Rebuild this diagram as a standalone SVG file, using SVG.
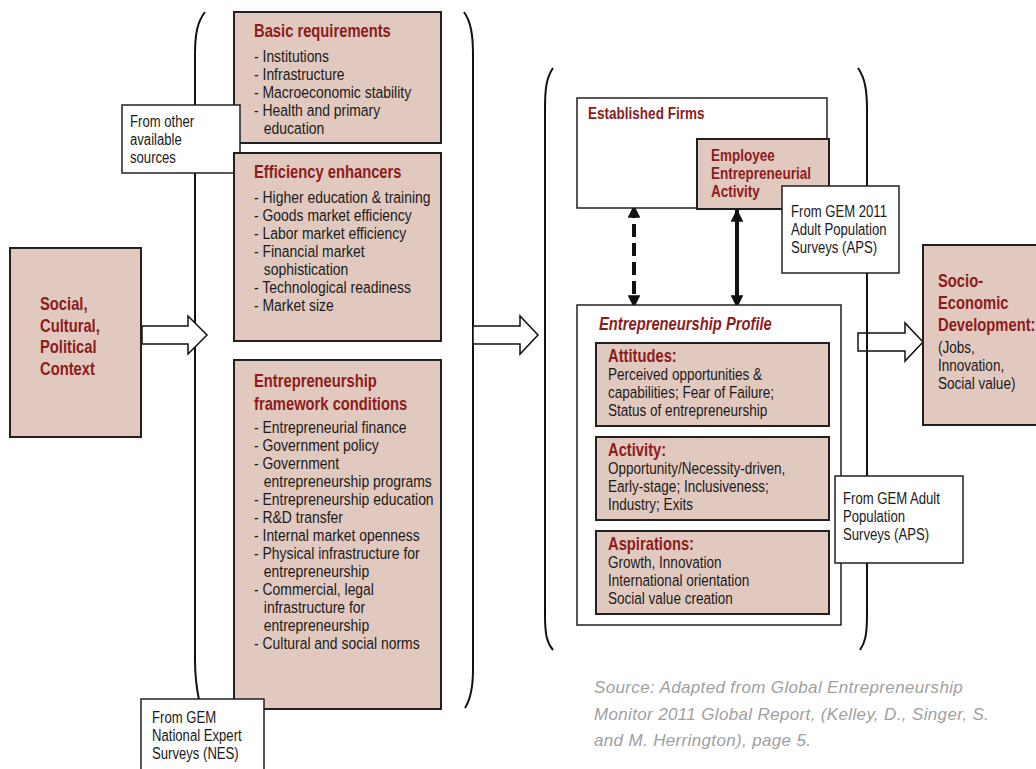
<svg xmlns="http://www.w3.org/2000/svg" width="1036" height="769" viewBox="0 0 1036 769">
<style>
text{font-family:"Liberation Sans",Arial,sans-serif;fill:#1a1a1a}
.pink{fill:#e2c9bf;stroke:#231f20;stroke-width:2}
.wbox{fill:#fff;stroke:#231f20;stroke-width:1.5}
.br{fill:none;stroke:#111;stroke-width:2}
.blk{fill:#fff;stroke:#111;stroke-width:1.5}
.t{font-weight:bold;fill:#8c1c1c}
.t16{font-size:16.5px}.t18{font-size:18px}
.i17{font-size:17px}.i16{font-size:16.5px}
.n14{font-size:16px}
.src{font-style:italic;font-size:17px;letter-spacing:0.35px;fill:#a0a0a0}
</style>
<defs>
<marker id="ah" viewBox="0 0 10 10" refX="10" refY="5" markerWidth="3.2" markerHeight="3.2" orient="auto-start-reverse" markerUnits="strokeWidth">
<path d="M0,0 L10,5 L0,10 z" fill="#111"/>
</marker>
</defs>
<rect width="1036" height="769" fill="#fff"/>
<g id="connectors">
<path class="br" d="M205,12 C197,22 195,35 195,55 L195,660 C195,680 197,690 199,700"/>
<path class="br" d="M464,12 C471,22 473,35 473,55 L473,670 C473,690 470,700 465,708"/>
<polygon class="blk" points="142,326 188,326 188,316 207,335 188,354 188,344 142,344"/>
<polygon class="blk" points="473,326 520,326 520,316 538,335 520,354 520,344 473,344"/>
<polygon class="blk" points="858,333 905,333 905,323 923,342 905,361 905,351 858,351"/>
<path class="br" d="M553,68 C546,78 545,90 545,110 L545,615 C545,635 547,643 553,650"/>
<path class="br" d="M858,68 C865,78 867,90 867,110 L867,615 C867,635 865,643 860,650"/>
<line x1="634" y1="205" x2="634" y2="308" stroke="#111" stroke-width="4" stroke-dasharray="13,6" marker-start="url(#ah)" marker-end="url(#ah)"/>
<line x1="737" y1="209" x2="737" y2="308" stroke="#111" stroke-width="4" marker-start="url(#ah)" marker-end="url(#ah)"/>
</g>
<g id="social">
<rect class="pink" x="10" y="248" width="131" height="189"/>
<g transform="translate(40,0) scale(0.82,1)">
<text class="t t18" x="0" y="310">Social,</text>
<text class="t t18" x="0" y="332">Cultural,</text>
<text class="t t18" x="0" y="353">Political</text>
<text class="t t18" x="0" y="375">Context</text>
</g>
</g>
<g id="basic">
<rect class="pink" x="234" y="12" width="207" height="131"/>
<g transform="translate(254,0) scale(0.82,1)">
<text class="t t18" x="0" y="37">Basic requirements</text>
<text class="i17" x="0" y="62">- Institutions</text>
<text class="i17" x="0" y="80">- Infrastructure</text>
<text class="i17" x="0" y="98">- Macroeconomic stability</text>
<text class="i17" x="0" y="116">- Health and primary</text>
<text class="i17" x="12" y="134">education</text>
</g>
</g>
<g id="other-sources">
<rect class="wbox" x="122" y="105" width="118" height="68"/>
<g transform="translate(130,0) scale(0.82,1)">
<text class="n14" x="0" y="127">From other</text>
<text class="n14" x="0" y="145">available</text>
<text class="n14" x="0" y="163">sources</text>
</g>
</g>
<g id="efficiency">
<rect class="pink" x="234" y="153" width="207" height="188"/>
<g transform="translate(254,0) scale(0.82,1)">
<text class="t t18" x="0" y="178">Efficiency enhancers</text>
<text class="i17" x="0" y="203">- Higher education &amp; training</text>
<text class="i17" x="0" y="221">- Goods market efficiency</text>
<text class="i17" x="0" y="239">- Labor market efficiency</text>
<text class="i17" x="0" y="257">- Financial market</text>
<text class="i17" x="12" y="275">sophistication</text>
<text class="i17" x="0" y="293">- Technological readiness</text>
<text class="i17" x="0" y="311">- Market size</text>
</g>
</g>
<g id="framework">
<rect class="pink" x="234" y="360" width="207" height="349"/>
<g transform="translate(254,0) scale(0.82,1)">
<text class="t t18" x="0" y="387">Entrepreneurship</text>
<text class="t t18" x="0" y="410">framework conditions</text>
<text class="i17" x="0" y="433">- Entrepreneurial finance</text>
<text class="i17" x="0" y="451">- Government policy</text>
<text class="i17" x="0" y="469">- Government</text>
<text class="i17" x="12" y="487">entrepreneurship programs</text>
<text class="i17" x="0" y="505">- Entrepreneurship education</text>
<text class="i17" x="0" y="523">- R&amp;D transfer</text>
<text class="i17" x="0" y="541">- Internal market openness</text>
<text class="i17" x="0" y="559">- Physical infrastructure for</text>
<text class="i17" x="12" y="577">entrepreneurship</text>
<text class="i17" x="0" y="595">- Commercial, legal</text>
<text class="i17" x="12" y="613">infrastructure for</text>
<text class="i17" x="12" y="631">entrepreneurship</text>
<text class="i17" x="0" y="649">- Cultural and social norms</text>
</g>
</g>
<g id="nes">
<rect class="wbox" x="141" y="699" width="123" height="80"/>
<g transform="translate(152,0) scale(0.82,1)">
<text class="n14" x="0" y="723">From GEM</text>
<text class="n14" x="0" y="741">National Expert</text>
<text class="n14" x="0" y="759">Surveys (NES)</text>
</g>
</g>
<g id="established">
<rect class="wbox" x="577" y="98" width="250" height="110"/>
<g transform="translate(588,0) scale(0.82,1)">
<text class="t t16" x="0" y="119">Established Firms</text>
</g>
</g>
<g id="employee">
<rect class="pink" x="697" y="139" width="132" height="70"/>
<g transform="translate(711,0) scale(0.82,1)">
<text class="t t16" x="0" y="161">Employee</text>
<text class="t t16" x="0" y="179">Entrepreneurial</text>
<text class="t t16" x="0" y="197">Activity</text>
</g>
</g>
<g id="aps2011">
<rect class="wbox" x="782" y="186" width="117" height="87"/>
<g transform="translate(791,0) scale(0.82,1)">
<text class="n14" x="0" y="217">From GEM 2011</text>
<text class="n14" x="0" y="235">Adult Population</text>
<text class="n14" x="0" y="253">Surveys (APS)</text>
</g>
</g>
<g id="profile">
<rect class="wbox" x="577" y="305" width="264" height="320"/>
<g transform="translate(599,0) scale(0.82,1)">
<text class="t t18" x="0" y="330" font-style="italic">Entrepreneurship Profile</text>
</g>
</g>
<g id="attitudes">
<rect class="pink" x="596" y="343" width="233" height="83"/>
<g transform="translate(608,0) scale(0.82,1)">
<text class="t t18" x="0" y="362">Attitudes:</text>
<text class="i16" x="0" y="380">Perceived opportunities &amp;</text>
<text class="i16" x="0" y="398">capabilities; Fear of Failure;</text>
<text class="i16" x="0" y="416">Status of entrepreneurship</text>
</g>
</g>
<g id="activity">
<rect class="pink" x="596" y="437" width="233" height="83"/>
<g transform="translate(608,0) scale(0.82,1)">
<text class="t t18" x="0" y="456">Activity:</text>
<text class="i16" x="0" y="474">Opportunity/Necessity-driven,</text>
<text class="i16" x="0" y="492">Early-stage; Inclusiveness;</text>
<text class="i16" x="0" y="510">Industry; Exits</text>
</g>
</g>
<g id="aspirations">
<rect class="pink" x="596" y="531" width="233" height="83"/>
<g transform="translate(608,0) scale(0.82,1)">
<text class="t t18" x="0" y="550">Aspirations:</text>
<text class="i16" x="0" y="568">Growth, Innovation</text>
<text class="i16" x="0" y="586">International orientation</text>
<text class="i16" x="0" y="604">Social value creation</text>
</g>
</g>
<g id="aps">
<rect class="wbox" x="835" y="476" width="128" height="87"/>
<g transform="translate(843,0) scale(0.82,1)">
<text class="n14" x="0" y="504">From GEM Adult</text>
<text class="n14" x="0" y="522">Population</text>
<text class="n14" x="0" y="540">Surveys (APS)</text>
</g>
</g>
<g id="socio">
<rect class="pink" x="923" y="245" width="130" height="180"/>
<g transform="translate(938,0) scale(0.82,1)">
<text class="t t18" x="0" y="287">Socio-</text>
<text class="t t18" x="0" y="309">Economic</text>
<text class="t t18" x="0" y="331">Development:</text>
<text class="i16" x="0" y="353">(Jobs,</text>
<text class="i16" x="0" y="371">Innovation,</text>
<text class="i16" x="0" y="389">Social value)</text>
</g>
</g>
<g id="source">
<text class="src" x="594" y="693">Source: Adapted from Global Entrepreneurship</text>
<text class="src" x="594" y="720">Monitor 2011 Global Report, (Kelley, D., Singer, S.</text>
<text class="src" x="594" y="746">and M. Herrington), page 5.</text>
</g>
</svg>
